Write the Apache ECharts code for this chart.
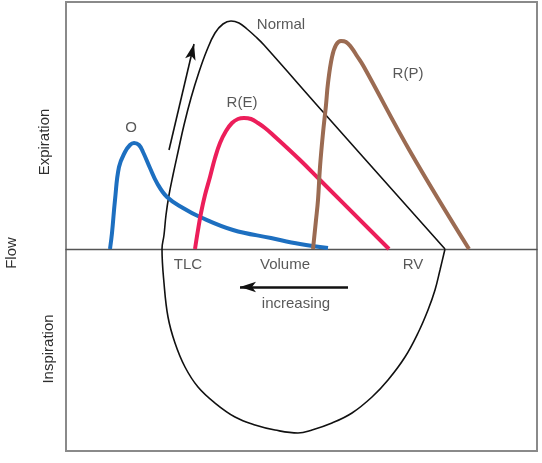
<!DOCTYPE html>
<html>
<head>
<meta charset="utf-8">
<script src="https://cdn.jsdelivr.net/npm/echarts@6/dist/echarts.min.js"></script>
<style>
html,body{margin:0;padding:0;background:#fff;}
#chart{width:542px;height:463px;}
</style>
</head>
<body>
<div id="chart"></div>
<script>
// Volume (arbitrary units, left = TLC) vs flow (expiration positive)
const obstructive = [[4.4,0],[4.6,1.6],[4.9,4.9],[5.3,8.2],[5.9,9.7],[6.4,10.4],[6.8,10.6],[7.3,10.4],[7.7,9.7],[8.4,8.1],[9.1,6.6],[10.1,5.2],[11.7,4.1],[13.4,3.2],[16.7,1.9],[20.5,1.1],[23.4,0.5],[26.2,0.1]];
const restrictiveE = [[12.9,0],[13.2,1.9],[13.5,3.6],[13.9,5.4],[14.4,7.2],[14.9,9.1],[15.4,10.6],[16.0,11.8],[16.6,12.6],[17.2,13.0],[17.8,13.1],[18.5,13.0],[19.2,12.6],[19.9,12.1],[20.6,11.5],[23.4,8.9],[25.4,6.9],[32.3,0]];
const restrictiveP = [[24.7,0],[25.0,2.9],[25.2,4.9],[25.4,8.2],[25.7,11.6],[26.0,14.4],[26.2,16.6],[26.6,19.2],[27.0,20.4],[27.5,20.8],[28.0,20.7],[28.5,20.2],[29.1,19.3],[29.8,18.2],[34.5,9.6],[40.3,0]];
// Normal loop: inspiration (RV -> TLC) then expiration (TLC -> RV)
const normalInsp = [[37.9,0],[37.4,-2.1],[36.9,-4.1],[36.2,-6.1],[35.2,-8.4],[33.9,-10.8],[32.2,-13.1],[30.6,-14.8],[28.6,-16.4],[26.6,-17.4],[24.6,-18.1],[23.2,-18.4],[20.9,-18.1],[18.9,-17.6],[16.9,-16.8],[14.9,-15.4],[13.2,-13.8],[11.9,-11.8],[10.9,-9.4],[10.2,-6.8],[9.8,-3.4],[9.6,0]];
const normalExp = [[9.6,0],[9.8,1.4],[10.0,3.4],[10.3,5.4],[10.7,7.4],[11.2,9.7],[11.8,12.4],[12.5,15.1],[13.3,17.7],[14.1,19.9],[14.9,21.6],[15.7,22.5],[16.5,22.8],[17.3,22.6],[18.1,22.0],[19.0,21.2],[19.8,20.4],[25.8,13.6],[37.9,0]];
const curveLabels = [[21.5,22.4,'Normal'],[6.5,12.1,'O'],[17.6,14.6,'R(E)'],[34.2,17.5,'R(P)']];
const axisTexts = [[12.2,-1.6,'TLC'],[21.9,-1.6,'Volume'],[34.7,-1.6,'RV'],[23.0,-5.5,'increasing']];
const upArrow = [[10.3,9.9],[12.8,20.5]];
const leftArrow = [[28.2,-3.8],[17.4,-3.8]];

const FONT = '"Liberation Sans", Arial, Helvetica, sans-serif';
const chart = echarts.init(document.getElementById('chart'));

function curve(data, color, width, smooth) {
  return {
    type: 'line', data: data, smooth: smooth, showSymbol: false, symbol: 'none',
    lineStyle: { color: color, width: width }, silent: true, z: 3
  };
}
function textSeries(data) {
  return {
    type: 'scatter', data: data, symbolSize: 1, itemStyle: { color: 'transparent' }, silent: true, z: 5,
    label: { show: true, position: 'inside', formatter: p => p.value[2], color: '#2e2e2e', fontSize: 15, fontFamily: FONT }
  };
}

chart.setOption({
  animation: false,
  backgroundColor: '#fff',
  grid: { left: 66, right: 5, top: 2, bottom: 12, show: true, borderColor: '#8a8a8a', borderWidth: 2, backgroundColor: 'transparent' },
  xAxis: {
    type: 'value', min: 0, max: 47.1,
    axisLine: { show: true, onZero: true, lineStyle: { color: '#555', width: 1.3 } },
    axisTick: { show: false }, axisLabel: { show: false }, splitLine: { show: false }
  },
  yAxis: {
    type: 'value', min: -20.2, max: 24.7,
    axisLine: { show: false }, axisTick: { show: false }, axisLabel: { show: false }, splitLine: { show: false }
  },
  graphic: [
    { type: 'text', x: 12, y: 253, rotation: Math.PI / 2, style: { text: 'Flow', fontSize: 15, fontFamily: FONT, fill: '#2e2e2e', align: 'center', verticalAlign: 'middle' } },
    { type: 'text', x: 45, y: 142, rotation: Math.PI / 2, style: { text: 'Expiration', fontSize: 15, fontFamily: FONT, fill: '#2e2e2e', align: 'center', verticalAlign: 'middle' } },
    { type: 'text', x: 49, y: 349, rotation: Math.PI / 2, style: { text: 'Inspiration', fontSize: 15, fontFamily: FONT, fill: '#2e2e2e', align: 'center', verticalAlign: 'middle' } }
  ],
  series: [
    curve(normalInsp.concat(normalExp.slice(1)), '#111', 1.6, 0.4),
    curve(obstructive, '#1d6fc0', 4, 0.4),
    curve(restrictiveE, '#ec1e5a', 4, 0.4),
    curve(restrictiveP, '#9b6b52', 4, 0.4),
    textSeries(curveLabels),
    textSeries(axisTexts),
    {
      type: 'line', data: [], silent: true,
      markLine: {
        silent: true, animation: false, symbol: ['none', 'arrow'], label: { show: false },
        data: [
          [{ coord: upArrow[0], symbolSize: 8, lineStyle: { color: '#111', width: 1.6, type: 'solid' } }, { coord: upArrow[1] }],
          [{ coord: leftArrow[0], symbolSize: 10, lineStyle: { color: '#111', width: 2.6, type: 'solid' } }, { coord: leftArrow[1] }]
        ]
      }
    }
  ]
});
</script>
</body>
</html>
